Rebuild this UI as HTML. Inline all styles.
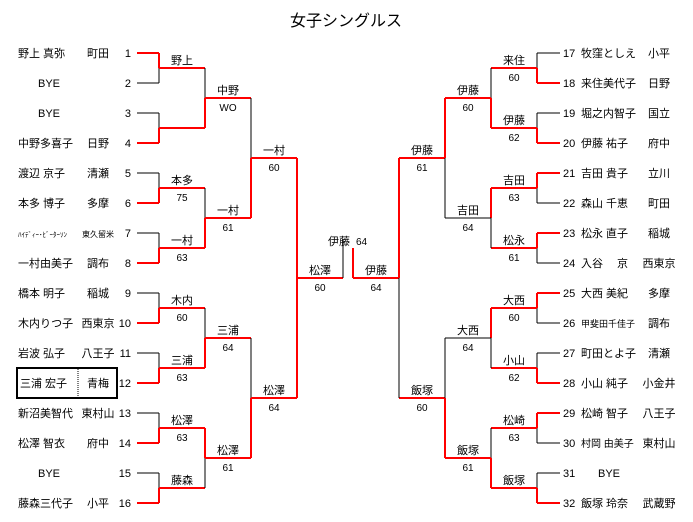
<!DOCTYPE html>
<html><head><meta charset="utf-8"><style>
html,body{margin:0;padding:0;background:#fff;}
svg{display:block;font-family:"Liberation Sans","Noto Sans CJK JP",sans-serif;}
.r{stroke:#f00;stroke-width:2;fill:none}
.b{stroke:#000;stroke-width:1;fill:none}
text{font-size:11px;fill:#000}
.c{text-anchor:middle}
.e{text-anchor:end}
.n{font-size:10px}
</style></head><body>
<svg width="693" height="522" viewBox="0 0 693 522">
<text x="346" y="26" class="c" style="font-size:16px">女子シングルス</text>
<path class="r" d="M137 53H159M137 143H159M137 203H159M137 263H159M137 323H159M137 383H159M137 443H159M137 503H159"/>
<path class="b" d="M137 83H159M137 113H159M137 173H159M137 233H159M137 293H159M137 353H159M137 413H159M137 473H159"/>
<path class="r" d="M159 53V68M159 128V143M159 188V203M159 248V263M159 308V323M159 368V383M159 428V443M159 488V503"/>
<path class="b" d="M159 68V83M159 113V128M159 173V188M159 233V248M159 293V308M159 353V368M159 413V428M159 473V488"/>
<path class="r" d="M159 68H205M159 128H205M159 188H205M159 248H205M159 308H205M159 368H205M159 428H205M159 488H205"/>
<path class="b" d="M205 68V98M205 188V218M205 308V338M205 458V488"/>
<path class="r" d="M205 98V128M205 218V248M205 338V368M205 428V458"/>
<path class="r" d="M205 98H251M205 218H251M205 338H251M205 458H251"/>
<path class="b" d="M251 98V158M251 338V398"/>
<path class="r" d="M251 158V218M251 398V458M251 158H297M251 398H297"/>
<path class="r" d="M297 158V398M297 278H343"/>
<path class="b" d="M343 239V278"/>
<path class="r" d="M537 83H560M537 143H560M537 173H560M537 233H560M537 293H560M537 383H560M537 413H560M537 503H560"/>
<path class="b" d="M537 53H560M537 113H560M537 203H560M537 263H560M537 323H560M537 353H560M537 443H560M537 473H560"/>
<path class="r" d="M537 68V83M537 128V143M537 173V188M537 233V248M537 293V308M537 368V383M537 413V428M537 488V503"/>
<path class="b" d="M537 53V68M537 113V128M537 188V203M537 248V263M537 308V323M537 353V368M537 428V443M537 473V488"/>
<path class="r" d="M491 68H537M491 128H537M491 188H537M491 248H537M491 308H537M491 368H537M491 428H537M491 488H537"/>
<path class="b" d="M491 68V98M491 218V248M491 338V368M491 428V458"/>
<path class="r" d="M491 98V128M491 188V218M491 308V338M491 458V488"/>
<path class="r" d="M445 98H491M445 458H491"/>
<path class="b" d="M445 218H491M445 338H491"/>
<path class="r" d="M445 98V158M445 398V458M399 158H445M399 398H445"/>
<path class="b" d="M445 158V218M445 338V398"/>
<path class="r" d="M399 158V278M353 278H399M353 248V278"/>
<path class="b" d="M399 278V398"/>
<text x="328" y="245">伊藤</text><text x="356" y="245" class="n">64</text>
<g class="c">
<text x="182" y="64">野上</text>
<text x="182" y="184">本多</text><text x="182" y="201" class="n">75</text>
<text x="182" y="244">一村</text><text x="182" y="261" class="n">63</text>
<text x="182" y="304">木内</text><text x="182" y="321" class="n">60</text>
<text x="182" y="364">三浦</text><text x="182" y="381" class="n">63</text>
<text x="182" y="424">松澤</text><text x="182" y="441" class="n">63</text>
<text x="182" y="484">藤森</text>
<text x="228" y="94">中野</text><text x="228" y="111" class="n">WO</text>
<text x="228" y="214">一村</text><text x="228" y="231" class="n">61</text>
<text x="228" y="334">三浦</text><text x="228" y="351" class="n">64</text>
<text x="228" y="454">松澤</text><text x="228" y="471" class="n">61</text>
<text x="274" y="154">一村</text><text x="274" y="171" class="n">60</text>
<text x="274" y="394">松澤</text><text x="274" y="411" class="n">64</text>
<text x="320" y="274">松澤</text><text x="320" y="291" class="n">60</text>
<text x="376" y="274">伊藤</text><text x="376" y="291" class="n">64</text>
<text x="422" y="154">伊藤</text><text x="422" y="171" class="n">61</text>
<text x="422" y="394">飯塚</text><text x="422" y="411" class="n">60</text>
<text x="468" y="94">伊藤</text><text x="468" y="111" class="n">60</text>
<text x="468" y="214">吉田</text><text x="468" y="231" class="n">64</text>
<text x="468" y="334">大西</text><text x="468" y="351" class="n">64</text>
<text x="468" y="454">飯塚</text><text x="468" y="471" class="n">61</text>
<text x="514" y="64">来住</text><text x="514" y="81" class="n">60</text>
<text x="514" y="124">伊藤</text><text x="514" y="141" class="n">62</text>
<text x="514" y="184">吉田</text><text x="514" y="201" class="n">63</text>
<text x="514" y="244">松永</text><text x="514" y="261" class="n">61</text>
<text x="514" y="304">大西</text><text x="514" y="321" class="n">60</text>
<text x="514" y="364">小山</text><text x="514" y="381" class="n">62</text>
<text x="514" y="424">松崎</text><text x="514" y="441" class="n">63</text>
<text x="514" y="484">飯塚</text>
</g>
<rect x="17" y="368" width="100" height="30" fill="none" stroke="#000" stroke-width="2"/>
<line x1="78" y1="369" x2="78" y2="397" stroke="#000" stroke-width="1" stroke-dasharray="1,1"/>
<g>
<text x="18" y="57">野上 真弥</text><text x="38" y="117">BYE</text><text x="38" y="87">BYE</text>
<text x="18" y="147">中野多喜子</text><text x="18" y="177">渡辺 京子</text><text x="18" y="207">本多 博子</text>
<text x="18" y="237" style="font-size:7px">ﾊｲﾃﾞｨｰ･ﾋﾞｰﾀｰｿﾝ</text><text x="18" y="267">一村由美子</text>
<text x="18" y="297">橋本 明子</text><text x="18" y="327">木内りつ子</text><text x="18" y="357">岩波 弘子</text>
<text x="20" y="387">三浦 宏子</text><text x="18" y="417">新沼美智代</text><text x="18" y="447">松澤 智衣</text>
<text x="38" y="477">BYE</text><text x="18" y="507">藤森三代子</text>
</g>
<g class="c">
<text x="98" y="57">町田</text><text x="98" y="147">日野</text><text x="98" y="177">清瀬</text><text x="98" y="207">多摩</text>
<text x="98" y="237" style="font-size:8px">東久留米</text><text x="98" y="267">調布</text><text x="98" y="297">稲城</text>
<text x="98" y="327">西東京</text><text x="98" y="357">八王子</text><text x="98" y="387">青梅</text><text x="98" y="417">東村山</text>
<text x="98" y="447">府中</text><text x="98" y="507">小平</text>
</g>
<g class="e n">
<text x="131" y="57">1</text><text x="131" y="87">2</text><text x="131" y="117">3</text><text x="131" y="147">4</text>
<text x="131" y="177">5</text><text x="131" y="207">6</text><text x="131" y="237">7</text><text x="131" y="267">8</text>
<text x="131" y="297">9</text><text x="131" y="327">10</text><text x="131" y="357">11</text><text x="131" y="387">12</text>
<text x="131" y="417">13</text><text x="131" y="447">14</text><text x="131" y="477">15</text><text x="131" y="507">16</text>
</g>
<g class="n">
<text x="563" y="57">17</text><text x="563" y="87">18</text><text x="563" y="117">19</text><text x="563" y="147">20</text>
<text x="563" y="177">21</text><text x="563" y="207">22</text><text x="563" y="237">23</text><text x="563" y="267">24</text>
<text x="563" y="297">25</text><text x="563" y="327">26</text><text x="563" y="357">27</text><text x="563" y="387">28</text>
<text x="563" y="417">29</text><text x="563" y="447">30</text><text x="563" y="477">31</text><text x="563" y="507">32</text>
</g>
<g>
<text x="581" y="57">牧窪としえ</text><text x="581" y="87">来住美代子</text><text x="581" y="117">堀之内智子</text>
<text x="581" y="147">伊藤 祐子</text><text x="581" y="177">吉田 貴子</text><text x="581" y="207">森山 千恵</text>
<text x="581" y="237">松永 直子</text><text x="581" y="267">入谷 　京</text><text x="581" y="297">大西 美紀</text>
<text x="581" y="327" style="font-size:9px">甲斐田千佳子</text><text x="581" y="357">町田とよ子</text><text x="581" y="387">小山 純子</text>
<text x="581" y="417">松崎 智子</text><text x="581" y="447" style="font-size:10px">村岡 由美子</text>
<text x="598" y="477">BYE</text><text x="581" y="507">飯塚 玲奈</text>
</g>
<g class="c">
<text x="659" y="57">小平</text><text x="659" y="87">日野</text><text x="659" y="117">国立</text><text x="659" y="147">府中</text>
<text x="659" y="177">立川</text><text x="659" y="207">町田</text><text x="659" y="237">稲城</text><text x="659" y="267">西東京</text>
<text x="659" y="297">多摩</text><text x="659" y="327">調布</text><text x="659" y="357">清瀬</text><text x="659" y="387">小金井</text>
<text x="659" y="417">八王子</text><text x="659" y="447">東村山</text><text x="659" y="507">武蔵野</text>
</g>
</svg>
</body></html>
